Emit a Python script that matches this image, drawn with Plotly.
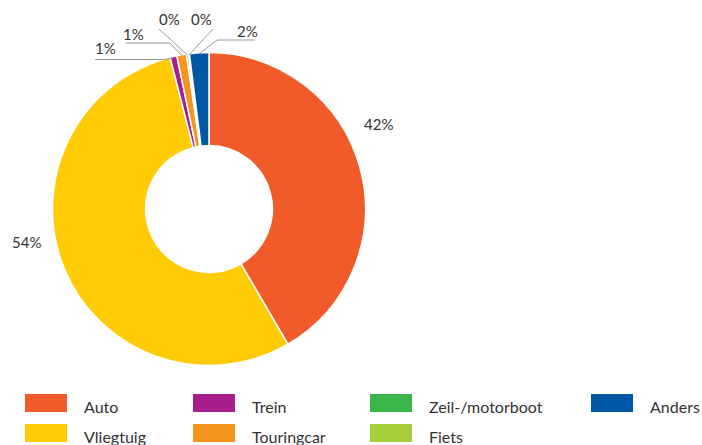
import math
import plotly.graph_objects as go

# Share of holiday trips by means of transport (%)
categories = ["Auto", "Vliegtuig", "Trein", "Touringcar", "Zeil-/motorboot", "Fiets", "Anders"]
shares = [41.6, 54.4, 0.7, 1.0, 0.2, 0.1, 2.0]
colors = ["#F15A29", "#FFCB05", "#A91E8C", "#F7941D", "#39B54A", "#A6CE39", "#0057A6"]

# legend arrangement (two rows, four columns)
legend_rows = [["Auto", "Trein", "Zeil-/motorboot", "Anders"],
               ["Vliegtuig", "Touringcar", "Fiets"]]

W, H = 702, 445
CX, CY, R = 209, 209, 156.5          # pie centre / radius in px
FONT = "Lato"
TXT = "#333333"


def px(x):
    return x / W


def py(y):
    return 1 - y / H


# label placement (px) and leader-line points for the small slices
label_pos = {
    "Auto": (378, 124),
    "Vliegtuig": (26, 242),
    "Trein": (105, 48),
    "Touringcar": (133, 34),
    "Zeil-/motorboot": (169, 19),
    "Fiets": (201, 19),
    "Anders": (247, 31),
}
leader = {
    "Trein": [(95, 59.5), (165, 59.5)],
    "Touringcar": [(125, 43), (170, 43)],
    "Zeil-/motorboot": [(159, 29)],
    "Fiets": [(213, 29)],
    "Anders": [(255, 40), (217, 40)],
}

fig = go.Figure(go.Pie(
    labels=categories,
    values=shares,
    sort=False,
    direction="clockwise",
    rotation=0,
    hole=0.405,
    marker=dict(colors=colors, line=dict(color="white", width=1.5)),
    textinfo="none",
    showlegend=False,
    domain=dict(x=[px(CX - R), px(CX + R)], y=[py(CY + R), py(CY - R)]),
))

annotations = []
shapes = []

total = sum(shares)
start = 0.0
for cat, val in zip(categories, shares):
    frac = val / total
    mid = (start + frac / 2) * 2 * math.pi
    start += frac
    lx, ly = label_pos[cat]
    annotations.append(dict(
        x=px(lx), y=py(ly), xref="paper", yref="paper",
        text=f"{round(val)}%", showarrow=False,
        xanchor="center", yanchor="middle",
        font=dict(family=FONT, size=15, color=TXT),
    ))
    if cat in leader:
        ax = CX + (R - 1) * math.sin(mid)
        ay = CY - (R - 1) * math.cos(mid)
        pts = leader[cat] + [(ax, ay)]
        for (x0, y0), (x1, y1) in zip(pts[:-1], pts[1:]):
            shapes.append(dict(
                type="line", xref="paper", yref="paper",
                x0=px(x0), y0=py(y0), x1=px(x1), y1=py(y1),
                line=dict(color="#9A9A9A", width=1),
            ))

# hand-drawn legend
col_x = [25, 193, 370, 591]
row_y = [403, 433]
color_of = dict(zip(categories, colors))
for r, row in enumerate(legend_rows):
    for c, cat in enumerate(row):
        x0 = col_x[c]
        yc = row_y[r]
        shapes.append(dict(
            type="rect", xref="paper", yref="paper",
            x0=px(x0), x1=px(x0 + 42), y0=py(yc - 9), y1=py(yc + 9),
            fillcolor=color_of[cat], line=dict(width=0),
        ))
        annotations.append(dict(
            x=px(x0 + 57), y=py(yc + 3), xref="paper", yref="paper",
            text=cat, showarrow=False, xanchor="left", yanchor="middle",
            font=dict(family=FONT, size=16, color=TXT),
        ))

fig.update_layout(
    width=W, height=H,
    margin=dict(l=0, r=0, t=0, b=0),
    paper_bgcolor="white", plot_bgcolor="white",
    annotations=annotations, shapes=shapes,
)

fig.write_html("out.html")
